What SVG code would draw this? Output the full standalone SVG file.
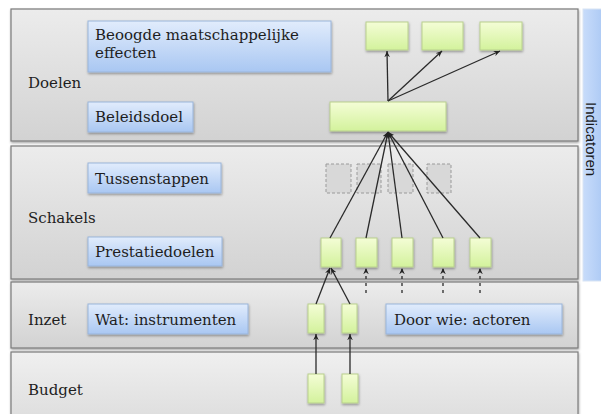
<svg xmlns="http://www.w3.org/2000/svg" width="601" height="414" viewBox="0 0 601 414">
<defs>
<linearGradient id="band" x1="0" y1="0" x2="0" y2="1"><stop offset="0" stop-color="#ececec"/><stop offset="1" stop-color="#d2d2d2"/></linearGradient>
<linearGradient id="band2" x1="0" y1="0" x2="0" y2="1"><stop offset="0" stop-color="#f0f0f0"/><stop offset="1" stop-color="#dedede"/></linearGradient>
<linearGradient id="blue" x1="0" y1="0" x2="0" y2="1"><stop offset="0" stop-color="#e1ecfc"/><stop offset="1" stop-color="#a9c7f2"/></linearGradient>
<linearGradient id="bar" x1="0" y1="0" x2="1" y2="0"><stop offset="0" stop-color="#c8dcfa"/><stop offset="1" stop-color="#aac8f4"/></linearGradient>
<linearGradient id="green" x1="0" y1="0" x2="0" y2="1"><stop offset="0" stop-color="#f4fdd6"/><stop offset="1" stop-color="#d3f29c"/></linearGradient>
<filter id="sh" x="-10%" y="-10%" width="130%" height="140%"><feDropShadow dx="0.5" dy="1.5" stdDeviation="1" flood-color="#000" flood-opacity="0.35"/></filter>
<marker id="ah" viewBox="0 0 10 10" refX="9" refY="5" markerWidth="7" markerHeight="7" markerUnits="userSpaceOnUse" orient="auto"><path d="M0,1 L9,5 L0,9 L3,5 Z" fill="#222"/></marker>
</defs>
<style>
.band{stroke:#7a7a7a;stroke-width:1.2;filter:url(#sh)}
.lbl{font-family:"DejaVu Serif",serif;font-size:15px;fill:#1e1e1e}
.bbox{fill:url(#blue);stroke:#9ab5da;stroke-width:1;filter:url(#sh)}
.gbox{fill:url(#green);stroke:#b9d08e;stroke-width:1;filter:url(#sh)}
.dbox{fill:#d8d8d8;stroke:#9a9a9a;stroke-width:1;stroke-dasharray:3,2}
.ln{stroke:#2a2a2a;stroke-width:1.3;fill:none;marker-end:url(#ah)}
.dl{stroke:#2a2a2a;stroke-width:1.3;fill:none;stroke-dasharray:3,4;marker-end:url(#ah)}
</style>
<rect x="0" y="0" width="601" height="414" fill="#ffffff"/>
<g id="band-doelen"><rect class="band" x="11" y="9" width="567" height="132" fill="url(#band)"/><text class="lbl" x="28" y="88">Doelen</text></g>
<g id="band-schakels"><rect class="band" x="11" y="146" width="567" height="133" fill="url(#band)"/><text class="lbl" x="28" y="223">Schakels</text></g>
<g id="band-inzet"><rect class="band" x="11" y="282" width="567" height="66" fill="url(#band)"/><text class="lbl" x="28" y="325">Inzet</text></g>
<g id="band-budget"><rect class="band" x="11" y="352" width="567" height="66" fill="url(#band2)"/><text class="lbl" x="28" y="395">Budget</text></g>
<g id="indicatoren"><rect x="583" y="9" width="22" height="272" fill="url(#bar)" stroke="#d8e4f4" stroke-width="1"/><text x="586" y="102" transform="rotate(90 586 102)" font-family="'Liberation Sans',Arial,sans-serif" font-size="15" fill="#1a1a1a">Indicatoren</text></g>
<g id="effecten-label"><rect class="bbox" x="88" y="21" width="243" height="51"/><text class="lbl" x="95" y="40">Beoogde maatschappelijke</text><text class="lbl" x="95" y="58">effecten</text></g>
<g id="beleidsdoel-label"><rect class="bbox" x="88" y="102" width="105" height="30"/><text class="lbl" x="95" y="122">Beleidsdoel</text></g>
<g id="tussenstappen-label"><rect class="bbox" x="88" y="163" width="133" height="30"/><text class="lbl" x="95" y="184">Tussenstappen</text></g>
<g id="prestatiedoelen-label"><rect class="bbox" x="88" y="237" width="134" height="29"/><text class="lbl" x="95" y="257">Prestatiedoelen</text></g>
<g id="wat-label"><rect class="bbox" x="88" y="304" width="160" height="30"/><text class="lbl" x="95" y="325">Wat: instrumenten</text></g>
<g id="doorwie-label"><rect class="bbox" x="386" y="304" width="176" height="30"/><text class="lbl" x="394" y="325">Door wie: actoren</text></g>
<g id="effect-1"><rect class="gbox" x="366" y="22" width="42" height="28"/></g>
<g id="effect-2"><rect class="gbox" x="422" y="22" width="41" height="28"/></g>
<g id="effect-3"><rect class="gbox" x="480" y="22" width="42" height="28"/></g>
<g id="beleidsdoel"><rect class="gbox" x="330" y="102" width="116" height="29"/></g>
<g id="tussen-1"><rect class="dbox" x="326" y="164" width="25" height="29"/></g>
<g id="tussen-2"><rect class="dbox" x="357" y="164" width="24" height="29"/></g>
<g id="tussen-3"><rect class="dbox" x="388" y="164" width="25" height="29"/></g>
<g id="tussen-4"><rect class="dbox" x="427" y="164" width="24" height="29"/></g>
<g id="prestatie-1"><rect class="gbox" x="321" y="238" width="20" height="29"/></g>
<g id="prestatie-2"><rect class="gbox" x="356" y="238" width="21" height="29"/></g>
<g id="prestatie-3"><rect class="gbox" x="392" y="238" width="21" height="29"/></g>
<g id="prestatie-4"><rect class="gbox" x="433" y="238" width="21" height="29"/></g>
<g id="prestatie-5"><rect class="gbox" x="470" y="238" width="21" height="29"/></g>
<g id="inzet-1"><rect class="gbox" x="308" y="304" width="16" height="29"/></g>
<g id="inzet-2"><rect class="gbox" x="342" y="304" width="15" height="29"/></g>
<g id="budget-1"><rect class="gbox" x="308" y="374" width="16" height="29"/></g>
<g id="budget-2"><rect class="gbox" x="342" y="374" width="16" height="29"/></g>
<g id="connectors">
<line class="ln" x1="388" y1="101" x2="387" y2="51"/>
<line class="ln" x1="388" y1="101" x2="442" y2="51"/>
<line class="ln" x1="388" y1="101" x2="500" y2="51"/>
<line class="ln" x1="330" y1="238" x2="388" y2="132"/>
<line class="ln" x1="366" y1="238" x2="388" y2="132"/>
<line class="ln" x1="402" y1="238" x2="388" y2="132"/>
<line class="ln" x1="443" y1="238" x2="388" y2="132"/>
<line class="ln" x1="480" y1="238" x2="388" y2="132"/>
<line class="ln" x1="316" y1="304" x2="330" y2="268"/>
<line class="ln" x1="350" y1="304" x2="331" y2="268"/>
<line class="ln" x1="316" y1="374" x2="316" y2="334"/>
<line class="ln" x1="350" y1="374" x2="350" y2="334"/>
<line class="dl" x1="366" y1="293" x2="366" y2="268"/>
<line class="dl" x1="402" y1="293" x2="402" y2="268"/>
<line class="dl" x1="443" y1="293" x2="443" y2="268"/>
<line class="dl" x1="480" y1="293" x2="480" y2="268"/>
</g>
</svg>
